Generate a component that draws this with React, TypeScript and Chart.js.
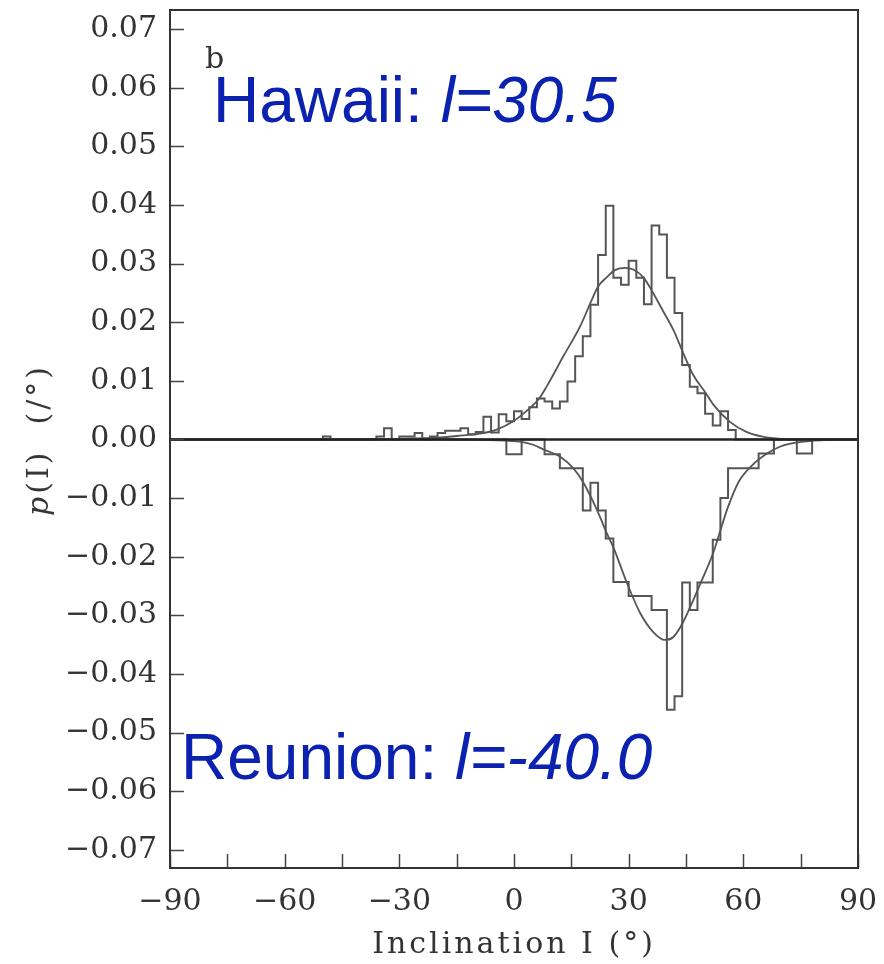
import React, { useEffect, useRef } from 'react';
import { Chart, registerables } from 'chart.js';

Chart.register(...registerables);

// Axis ticks
const xTickValues = [-90, -75, -60, -45, -30, -15, 0, 15, 30, 45, 60, 75, 90];
const xLabelValues = [-90, -60, -30, 0, 30, 60, 90];
const yTickValues = [-0.07, -0.06, -0.05, -0.04, -0.03, -0.02, -0.01, 0, 0.01, 0.02, 0.03, 0.04, 0.05, 0.06, 0.07];

// Hawaii histogram (2° bins, edges incl. closing edge)
const hawaiiBinEdges = [-50, -48, -46, -44, -42, -40, -38, -36, -34, -32, -30, -28, -26, -24, -22, -20, -18, -16, -14, -12, -10, -8, -6, -4, -2, 0, 2, 4, 6, 8, 10, 12, 14, 16, 18, 20, 22, 24, 26, 28, 30, 32, 34, 36, 38, 40, 42, 44, 46, 48, 50, 52, 54, 56, 58];
const hawaiiDensity = [0.0005, 0, 0, 0, 0, 0, 0, 0.0005, 0.0019, 0, 0.0005, 0.0005, 0.0011, 0, 0.0005, 0.0011, 0.0015, 0.0015, 0.0019, 0.0009, 0.0013, 0.0039, 0.0012, 0.0043, 0.0031, 0.0048, 0.0035, 0.0055, 0.0070, 0.0065, 0.0053, 0.0065, 0.0099, 0.0142, 0.0176, 0.0230, 0.0315, 0.0399, 0.0276, 0.0264, 0.0305, 0.0276, 0.0231, 0.0365, 0.0350, 0.0276, 0.0216, 0.0127, 0.0090, 0.0079, 0.0044, 0.0024, 0.0048, 0.0016];

// Reunion histogram (plotted downward)
const reunionBinEdges = [-2, 0, 2, 4, 6, 8, 10, 12, 14, 16, 18, 20, 22, 24, 26, 28, 30, 32, 34, 36, 38, 40, 42, 44, 46, 48, 50, 52, 54, 56, 58, 60, 62, 64, 66, 68, 70, 72, 74, 76, 78];
const reunionDensity = [-0.0025, -0.0025, 0, 0, 0, -0.0025, -0.0025, -0.0049, -0.0049, -0.0049, -0.0121, -0.0074, -0.0121, -0.0169, -0.0243, -0.0243, -0.0267, -0.0267, -0.0267, -0.0291, -0.0291, -0.0461, -0.0438, -0.0244, -0.0291, -0.0244, -0.0244, -0.0171, -0.0100, -0.0049, -0.0049, -0.0049, -0.0049, -0.0024, -0.0024, 0, 0, 0, -0.0024, -0.0024];

// Fitted curves
const hawaiiFitX = [-90, -40, -30, -20, -15, -9, -4.5, 0, 4.2, 6.5, 8.6, 12.9, 17.3, 20, 22, 24.3, 26.4, 29, 31.2, 33.8, 36.4, 39.1, 41.7, 44.3, 46.9, 50.2, 52.2, 56.5, 60.8, 65, 70, 75, 90];
const hawaiiFitY = [0, 0, 0.0001, 0.0003, 0.0006, 0.0010, 0.0017, 0.0032, 0.0054, 0.0069, 0.0091, 0.0142, 0.0193, 0.0233, 0.0261, 0.0277, 0.0289, 0.0293, 0.0290, 0.0277, 0.0250, 0.0218, 0.0187, 0.0147, 0.0110, 0.0079, 0.0059, 0.0030, 0.0013, 0.0005, 0.0001, 0, 0];
const reunionFitX = [-90, -20, -9, -2, 2, 5, 8.1, 12, 15.5, 18.1, 20.7, 22.5, 24.2, 26, 29.5, 33, 36.5, 39.5, 41.7, 44.3, 46.9, 49.5, 52.2, 54, 56, 58.8, 62.3, 66.2, 69.7, 74, 78.3, 85, 90];
const reunionFitY = [0, 0, -0.0001, -0.0002, -0.0004, -0.0009, -0.0018, -0.0029, -0.0049, -0.0073, -0.0106, -0.0132, -0.0159, -0.0184, -0.0244, -0.0296, -0.0329, -0.0342, -0.0337, -0.0311, -0.0274, -0.0235, -0.0192, -0.0155, -0.0115, -0.0072, -0.0044, -0.0024, -0.0012, -0.0005, -0.0002, 0, 0];

const X_MIN = -90;
const X_MAX = 90;
const Y_MIN = -0.07312;
const Y_MAX = 0.07329;

const SERIF = "'DejaVu Serif', serif";
const TEXT = '#333';

function histPoints(edges: number[], values: number[]) {
  const pts: { x: number; y: number }[] = [{ x: X_MIN, y: 0 }];
  values.forEach((v, i) => pts.push({ x: edges[i], y: v }));
  pts.push({ x: edges[edges.length - 1], y: 0 });
  pts.push({ x: X_MAX, y: 0 });
  return pts;
}

function fmtNum(v: number, digits: number) {
  const s = Math.abs(v) < 1e-9 ? (0).toFixed(digits) : v.toFixed(digits);
  return s.replace('-', '\u2212');
}

function zeroPadding(s: any) {
  s.paddingTop = 0;
  s.paddingBottom = 0;
  s.paddingLeft = 0;
  s.paddingRight = 0;
}

const framePlugin = {
  id: 'frameTicks',
  afterDatasetsDraw(chart: any) {
    const { ctx, chartArea: a, scales } = chart;
    ctx.save();
    ctx.strokeStyle = '#444';
    ctx.lineWidth = 1.5;
    for (const v of yTickValues) {
      const y = Math.round(scales.y.getPixelForValue(v)) + 0.5;
      ctx.beginPath();
      ctx.moveTo(a.left, y);
      ctx.lineTo(a.left + 14, y);
      ctx.stroke();
    }
    for (const v of xTickValues) {
      const x = Math.round(scales.x.getPixelForValue(v)) + 0.5;
      ctx.beginPath();
      ctx.moveTo(x, a.bottom);
      ctx.lineTo(x, a.bottom - 14);
      ctx.stroke();
    }
    ctx.strokeStyle = '#333';
    ctx.lineWidth = 2;
    ctx.strokeRect(a.left, a.top, a.right - a.left, a.bottom - a.top);
    ctx.restore();
  },
};

export default function App() {
  const canvasRef = useRef<HTMLCanvasElement | null>(null);

  useEffect(() => {
    const canvas = canvasRef.current;
    if (!canvas) return;
    const chart = new Chart(canvas, {
      type: 'line',
      data: {
        datasets: [
          {
            label: 'zero',
            data: [{ x: X_MIN, y: 0 }, { x: X_MAX, y: 0 }],
            borderColor: '#222',
            borderWidth: 2.5,
            pointRadius: 0,
          },
          {
            label: 'Hawaii histogram',
            data: histPoints(hawaiiBinEdges, hawaiiDensity),
            stepped: 'before',
            borderColor: '#555',
            borderWidth: 2,
            pointRadius: 0,
          },
          {
            label: 'Reunion histogram',
            data: histPoints(reunionBinEdges, reunionDensity),
            stepped: 'before',
            borderColor: '#555',
            borderWidth: 2,
            pointRadius: 0,
          },
          {
            label: 'Hawaii fit',
            data: hawaiiFitX.map((x, i) => ({ x, y: hawaiiFitY[i] })),
            borderColor: '#555',
            borderWidth: 1.8,
            pointRadius: 0,
            cubicInterpolationMode: 'monotone',
          },
          {
            label: 'Reunion fit',
            data: reunionFitX.map((x, i) => ({ x, y: reunionFitY[i] })),
            borderColor: '#555',
            borderWidth: 1.8,
            pointRadius: 0,
            cubicInterpolationMode: 'monotone',
          },
        ],
      } as any,
      options: {
        responsive: false,
        animation: false,
        devicePixelRatio: 1,
        layout: { padding: { top: 10, right: 26, left: 0, bottom: 0 } },
        plugins: { legend: { display: false }, tooltip: { enabled: false } },
        scales: {
          x: {
            type: 'linear',
            min: X_MIN,
            max: X_MAX,
            grid: { display: false, drawTicks: false },
            border: { display: false },
            ticks: {
              autoSkip: false,
              maxRotation: 0,
              minRotation: 0,
              padding: 16,
              color: TEXT,
              font: { family: SERIF, size: 30 },
              callback: (v: any) => (xLabelValues.includes(Number(v)) ? fmtNum(Number(v), 0) : ''),
            },
            afterBuildTicks: (s: any) => {
              s.ticks = xTickValues.map((value) => ({ value }));
            },
            afterFit: (s: any) => {
              s.height = 96;
              zeroPadding(s);
            },
          },
          y: {
            type: 'linear',
            min: Y_MIN,
            max: Y_MAX,
            grid: { display: false, drawTicks: false },
            border: { display: false },
            ticks: {
              autoSkip: false,
              padding: 13,
              color: TEXT,
              font: { family: SERIF, size: 30 },
              callback: (v: any) => fmtNum(Number(v), 2),
            },
            afterBuildTicks: (s: any) => {
              s.ticks = yTickValues.map((value) => ({ value }));
            },
            afterFit: (s: any) => {
              s.width = 170;
              zeroPadding(s);
            },
          },
        },
      } as any,
      plugins: [framePlugin],
    });
    return () => chart.destroy();
  }, []);

  const blue = '#0b22b0';
  const sans = "'Liberation Sans', Arial, sans-serif";

  return (
    <div style={{ position: 'absolute', left: 0, top: 0, width: 884, height: 964, background: '#fff' }}>
      <canvas ref={canvasRef} width={884} height={964} style={{ display: 'block', width: 884, height: 964 }} />
      <div style={{ position: 'absolute', left: 205, top: 43, font: `30px ${SERIF}`, lineHeight: '30px', color: TEXT }}>b</div>
      <div style={{ position: 'absolute', left: 213, top: 68, font: `64px ${sans}`, lineHeight: '64px', color: blue, whiteSpace: 'nowrap' }}>
        Hawaii: <i>l=30.5</i>
      </div>
      <div style={{ position: 'absolute', left: 181, top: 725, font: `64px ${sans}`, lineHeight: '64px', color: blue, whiteSpace: 'nowrap' }}>
        Reunion: <i>l=-40.0</i>
      </div>
      <div
        style={{
          position: 'absolute',
          left: 514,
          top: 928,
          transform: 'translateX(-50%)',
          font: `30px ${SERIF}`,
          lineHeight: '30px',
          letterSpacing: '3px',
          color: TEXT,
          whiteSpace: 'pre',
        }}
      >
        Inclination I (°)
      </div>
      <div
        style={{
          position: 'absolute',
          left: 38,
          top: 440,
          transform: 'translate(-50%, -50%) rotate(-90deg)',
          font: `30px ${SERIF}`,
          lineHeight: '30px',
          letterSpacing: '3px',
          color: TEXT,
          whiteSpace: 'pre',
        }}
      >
        <i>p</i>(I)  (/°)
      </div>
    </div>
  );
}
